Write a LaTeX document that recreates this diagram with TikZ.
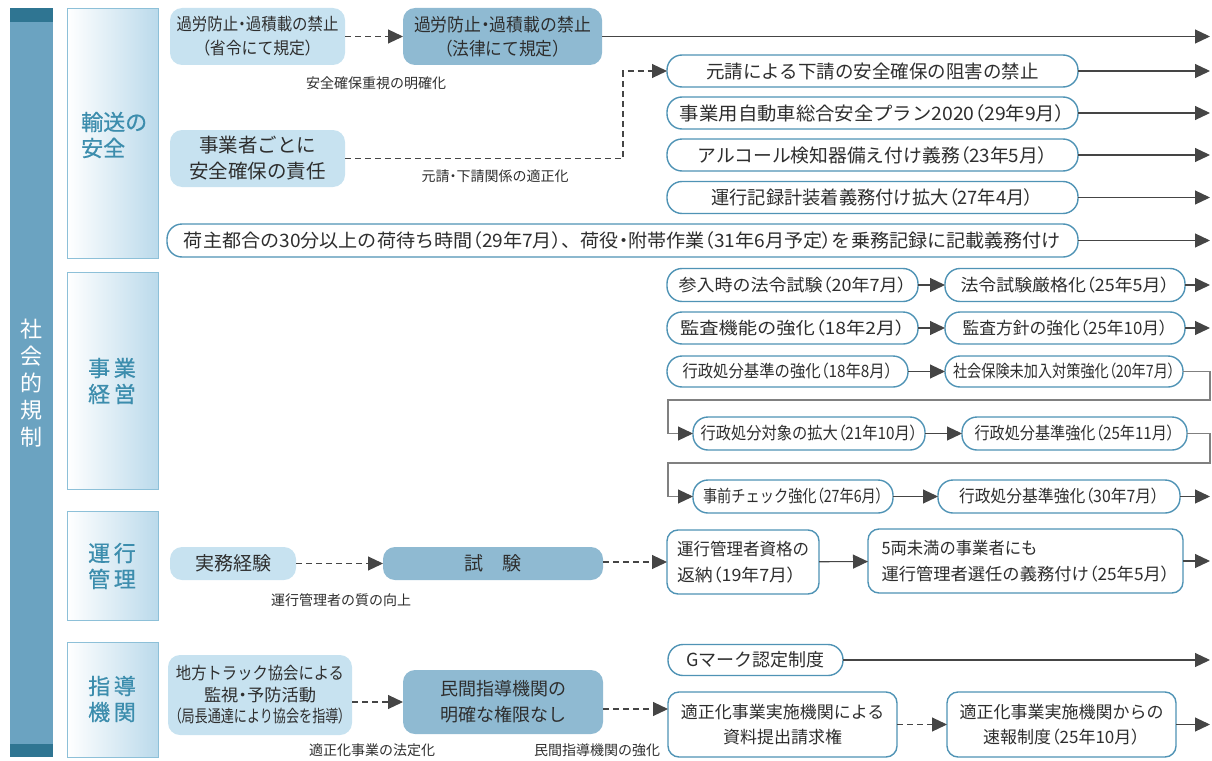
\documentclass[tikz,border=0pt]{standalone}
\usepackage{fontspec}
\usepackage{graphicx}
\setmainfont{Noto Sans CJK JP}
\newfontfamily\pf[RawFeature=+palt]{Noto Sans CJK JP}
\newfontfamily\catf[FakeBold=0.7]{Noto Sans CJK JP}
\usetikzlibrary{arrows.meta}
\definecolor{txt}{HTML}{2E2E2E}
\definecolor{lightfill}{HTML}{C7E2F0}
\definecolor{darkfill}{HTML}{8FBAD2}
\definecolor{pillline}{HTML}{4F93B5}
\definecolor{barfill}{HTML}{6BA3C1}
\definecolor{barcap}{HTML}{2F7592}
\definecolor{catline}{HTML}{8DC0D8}
\definecolor{catfill}{HTML}{BBDAEB}
\definecolor{cattext}{HTML}{3C8DAD}
\definecolor{arrgray}{HTML}{454545}
\newcommand{\fs}[2]{\fontsize{#1}{#2}\selectfont}
\newcommand{\sw}[2]{\resizebox{#1pt}{\height}{#2}}
\newcommand{\lp}{{\pf （}}
\newcommand{\rp}{{\pf ）}}
\newcommand{\nk}{{\pf ・}}
\tikzset{
  base/.style={inner sep=0pt, outer sep=0pt, text=txt, align=center},
  lightbox/.style={base, fill=lightfill, rounded corners=12pt},
  darkbox/.style={base, fill=darkfill, rounded corners=12pt},
  pill/.style={base, draw=pillline, line width=1.4pt, fill=white, rounded corners=15pt},
  rbox/.style={base, draw=pillline, line width=1.4pt, fill=white, rounded corners=11pt},
  arr/.style={draw=arrgray, line width=1.1pt, -{Triangle[length=15pt,width=14pt]}},
  darr/.style={arr, dash pattern=on 6pt off 4pt},
  elbow/.style={draw=gray, line width=1.1pt, -{Triangle[length=15pt,width=14pt,color=arrgray]}},
  lbl/.style={base, font=\fs{14}{16}},
  catbox/.style={draw=catline, line width=1pt, left color=white, right color=catfill},
  cattxt/.style={inner sep=0pt, text=cattext, font=\catf\fs{22}{26}, align=left},
  toppill/.style={pill, font=\fs{18.5}{20}, minimum height=32pt},
  midpill/.style={pill, font=\fs{17}{19}, minimum height=32pt}
}
\begin{document}
\begin{tikzpicture}[x=1pt,y=-1pt]
\useasboundingbox (0,0) rectangle (1212,760);
% left bar
\fill[barfill] (10,8) rectangle (53,757);
\fill[barcap] (10,8) rectangle (53,22);
\fill[barcap] (10,744) rectangle (53,757);
\node[inner sep=0pt, text=white, font=\fs{22}{27}, align=center] (bar) at (31.5,383) {社\\会\\的\\規\\制};
% category boxes
\draw[catbox] (67,9) rectangle (158,258);
\draw[catbox] (67,272) rectangle (158,489);
\draw[catbox] (67,511) rectangle (158,620);
\draw[catbox] (67,642) rectangle (158,757);
\node[cattxt, anchor=west] (c1) at (81,135) {輸送の\\安全};
\node[cattxt] (c2) at (112,381) {事\,業\\経\,営};
\node[cattxt] (c3) at (112,566) {運\,行\\管\,理};
\node[cattxt] (c4) at (112,699) {指\,導\\機\,関};

% ---- 輸送の安全
\node[lightbox, minimum width=175pt, minimum height=57pt, font=\fs{17}{24}] (a1) at (257.5,36.5)
  {\sw{162}{過労防止\nk 過積載の禁止}\\\sw{111}{\lp 省令にて規定\rp}};
\node[darkbox, minimum width=199pt, minimum height=57pt, font=\fs{18}{24}] (a2) at (502.5,36.5)
  {\sw{177}{過労防止\nk 過積載の禁止}\\\sw{117}{\lp 法律にて規定\rp}};
\node[lightbox, minimum width=175pt, minimum height=57pt, font=\fs{19.5}{26}] (b1) at (257.5,158.5)
  {事業者ごとに\\安全確保の責任};
\node[lbl] (l1) at (376,83) {安全確保重視の明確化};
\node[lbl] (l2) at (495,176) {元請\nk 下請関係の適正化};

\node[toppill, minimum width=411pt] (p1) at (872.5,71) {元請による下請の安全確保の阻害の禁止};
\node[toppill, minimum width=411pt] (p2) at (872.5,113) {\sw{385}{事業用自動車総合安全プラン2020\lp 29年9月\rp}};
\node[toppill, minimum width=411pt] (p3) at (872.5,155) {\sw{350}{アルコール検知器備え付け義務\lp 23年5月\rp}};
\node[toppill, minimum width=411pt] (p4) at (872.5,197.5) {\sw{322}{運行記録計装着義務付け拡大\lp 27年4月\rp}};
\node[toppill, minimum width=911pt, minimum height=33pt] (p5) at (622.5,240.5)
  {\sw{877}{荷主都合の30分以上の荷待ち時間\lp 29年7月\rp 、荷役\nk 附帯作業\lp 31年6月予定\rp を乗務記録に記載義務付け}};

\coordinate (ea) at (1210,36.5);
\coordinate (k1) at (623,71);
\draw[darr] (a1.east) -- (a2.west);
\draw[arr] (a2.east) -- (ea);
\draw[darr] (b1.east) -| (k1) -- (p1.west);
\foreach \n in {p1,p2,p3,p4,p5}{
  \coordinate (e\n) at (1210,0 |- \n.east);
  \draw[arr] (\n.east) -- (\n.east -| e\n);
}

% ---- 事業経営
\node[midpill, minimum width=251pt, minimum height=33pt] (q1a) at (792.5,285) {\sw{228}{参入時の法令試験\lp 20年7月\rp}};
\node[midpill, minimum width=240pt, minimum height=33pt] (q1b) at (1065,285) {\sw{209}{法令試験厳格化\lp 25年5月\rp}};
\node[midpill, minimum width=251pt] (q2a) at (792.5,328) {\sw{225}{監査機能の強化\lp 18年2月\rp}};
\node[midpill, minimum width=240pt] (q2b) at (1065,328) {\sw{205}{監査方針の強化\lp 25年10月\rp}};
\node[midpill, minimum width=241pt, minimum height=31pt] (q3a) at (787.5,371.5) {\sw{210}{行政処分基準の強化\lp 18年8月\rp}};
\node[midpill, minimum width=238pt, minimum height=31pt] (q3b) at (1064,371.5) {\sw{222}{社会保険未加入対策強化\lp 20年7月\rp}};
\node[midpill, minimum width=232pt, minimum height=33pt] (q4a) at (809,433.5) {\sw{217}{行政処分対象の拡大\lp 21年10月\rp}};
\node[midpill, minimum width=225pt, minimum height=33pt] (q4b) at (1074.5,433.5) {\sw{200}{行政処分基準強化\lp 25年11月\rp}};
\node[midpill, minimum width=200pt, minimum height=33pt] (q5a) at (793,496.5) {\sw{180}{事前チェック強化\lp 27年6月\rp}};
\node[midpill, minimum width=242pt, minimum height=33pt] (q5b) at (1059,496.5) {\sw{200}{行政処分基準強化\lp 30年7月\rp}};

\coordinate (eq1) at (1210,285);
\coordinate (eq2) at (1210,328);
\coordinate (eq5) at (1210,496.5);
\coordinate (t3a) at (1210,400);
\coordinate (t3b) at (668,400);
\coordinate (t4a) at (1210,463);
\coordinate (t4b) at (668,463);
\draw[arr] (q1a) -- (q1b);
\draw[arr] (q1b) -- (eq1);
\draw[arr] (q2a) -- (q2b);
\draw[arr] (q2b) -- (eq2);
\draw[arr] (q3a) -- (q3b);
\draw[elbow] (q3b.east) -| (t3a) -- (t3b) |- (q4a.west);
\draw[arr] (q4a) -- (q4b);
\draw[elbow] (q4b.east) -| (t4a) -- (t4b) |- (q5a.west);
\draw[arr] (q5a) -- (q5b);
\draw[arr] (q5b) -- (eq5);

% ---- 運行管理
\node[lightbox, minimum width=126pt, minimum height=33pt, font=\fs{19}{22}] (r1) at (233,563.5) {実務経験};
\node[darkbox, minimum width=220pt, minimum height=33pt, font=\fs{19}{22}] (r2) at (493,563.5) {試\hspace{19pt}験};
\node[rbox, minimum width=152pt, minimum height=64pt, font=\fs{17}{26}, align=left] (r3) at (743,562)
  {\sw{132}{運行管理者資格の}\\\sw{119}{返納\lp 19年7月\rp}};
\node[rbox, minimum width=315pt, minimum height=64pt, font=\fs{17}{26}, align=left] (r4) at (1025.5,561)
  {\sw{156}{5両未満の事業者にも}\\\sw{288}{運行管理者選任の義務付け\lp 25年5月\rp}};
\node[lbl] (l3) at (341,600) {運行管理者の質の向上};
\coordinate (er4) at (1210,561);
\draw[darr] (r1) -- (r2);
\draw[darr] (r2.east |- r3.west) -- (r3.west);
\draw[arr] (r3) -- (r4);
\draw[arr] (r4) -- (er4);

% ---- 指導機関
\node[lightbox, minimum width=184pt, minimum height=80pt, font=\fs{17}{21.5}] (s1) at (260,695)
  {\sw{168}{地方トラック協会による}\\\sw{112}{監視\nk 予防活動}\\\sw{170}{\lp 局長通達により協会を指導\rp}};
\node[darkbox, minimum width=200pt, minimum height=64pt, font=\fs{18}{26}] (s2) at (503,702)
  {民間指導機関の\\明確な権限なし};
\node[pill, minimum width=175pt, minimum height=31pt, font=\fs{18}{20}] (s3) at (755.5,660) {Gマーク認定制度};
\node[rbox, minimum width=229pt, minimum height=65pt, font=\fs{17}{25}] (s4) at (782.5,724.5)
  {適正化事業実施機関による\\資料提出請求権};
\node[rbox, minimum width=229pt, minimum height=65pt, font=\fs{17}{25}] (s5) at (1061.5,724.5)
  {適正化事業実施機関からの\\速報制度\lp 25年10月\rp};
\node[lbl] (l4) at (372,750) {適正化事業の法定化};
\node[lbl] (l5) at (597,750) {民間指導機関の強化};
\coordinate (k4) at (0,709);
\coordinate (es3) at (1210,660);
\coordinate (es5) at (1210,724.5);
\draw[darr] (s1.east |- s2.west) -- (s2.west);
\draw[darr] (s2.east |- k4) -- (s4.west |- k4);
\draw[arr] (s3) -- (es3);
\draw[darr] (s4) -- (s5);
\draw[arr] (s5) -- (es5);
\end{tikzpicture}
\end{document}
